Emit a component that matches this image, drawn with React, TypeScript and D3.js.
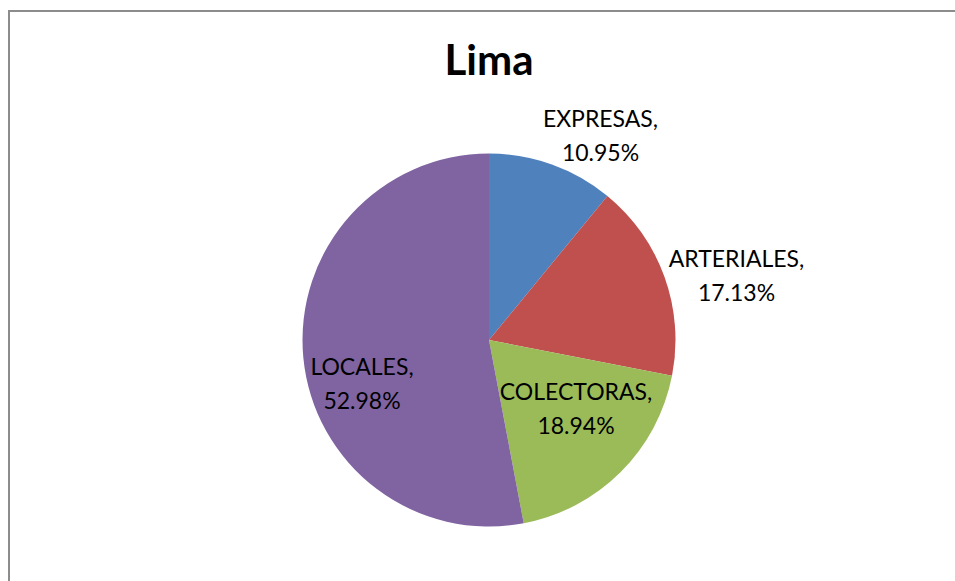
import React from "react";
import * as d3 from "d3";

const categories = ["EXPRESAS", "ARTERIALES", "COLECTORAS", "LOCALES"];
const values = [10.95, 17.13, 18.94, 52.98];
const colors = ["#4F81BD", "#C0504D", "#9BBB59", "#8064A2"];
const title = "Lima";

// label layout: baseline of first line relative to pie centre
const labelOffsets: [number, number][] = [
  [111.5, -213],
  [247.5, -73],
  [87, 60],
  [-127, 35],
];

export default function App() {
  const W = 955, H = 581;
  const cx = 489, cy = 340, r = 186.5;
  const pie = d3.pie<number>().sort(null).value((d) => d).startAngle(0).endAngle(2 * Math.PI);
  const arcs = pie(values);
  const arc = d3.arc<d3.PieArcDatum<number>>().innerRadius(0).outerRadius(r);
  const font = "Lato, Carlito, Calibri, sans-serif";
  return (
    <svg width={W} height={H} style={{ position: "absolute", left: 0, top: 0 }}>
      <rect x={0} y={0} width={W} height={H} fill="#fff" />
      <line x1={8} y1={11} x2={W} y2={11} stroke="#8c8c8c" strokeWidth={2} />
      <line x1={9} y1={10} x2={9} y2={H} stroke="#8c8c8c" strokeWidth={2} />
      <text x={cx} y={75} textAnchor="middle" fontFamily={font} fontWeight="bold" fontSize={42} fill="#000">
        {title}
      </text>
      <g transform={`translate(${cx},${cy})`}>
        {arcs.map((a, i) => (
          <path key={i} d={arc(a) || ""} fill={colors[i]} />
        ))}
        {arcs.map((a, i) => (
          <text key={"t" + i} textAnchor="middle" fontFamily={font} fontSize={23} fill="#000">
            <tspan x={labelOffsets[i][0]} y={labelOffsets[i][1]}>{categories[i]},</tspan>
            <tspan x={labelOffsets[i][0]} y={labelOffsets[i][1] + 34}>{values[i].toFixed(2)}%</tspan>
          </text>
        ))}
      </g>
    </svg>
  );
}
